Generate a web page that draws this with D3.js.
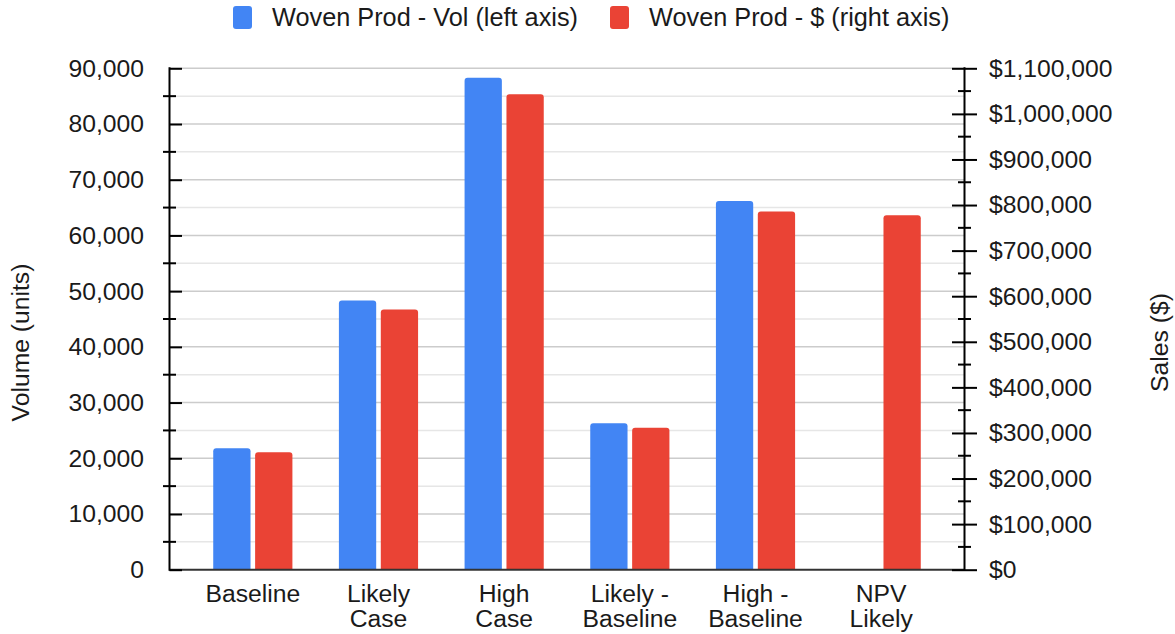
<!DOCTYPE html>
<html>
<head>
<meta charset="utf-8">
<script src="https://cdn.jsdelivr.net/npm/d3@7"></script>
<style>
  html, body { margin: 0; padding: 0; background: #fff; }
  svg { display: block; font-family: "Liberation Sans", Arial, Helvetica, sans-serif; }
</style>
</head>
<body>
<svg id="chart" width="1175" height="634"></svg>
<script>
// Scenario categories (multi-line labels split on "\n")
const categories = ["Baseline", "Likely\nCase", "High\nCase", "Likely -\nBaseline", "High -\nBaseline", "NPV\nLikely"];
// Woven product volume in units (left axis); null = no value
const volumeUnits = [21800, 48300, 88300, 26300, 66200, null];
// Woven product sales in dollars (right axis)
const salesDollars = [257500, 571000, 1043000, 311500, 786000, 777500];
const seriesNames = ["Woven Prod - Vol (left axis)", "Woven Prod - $ (right axis)"];
const seriesColors = ["#4285F4", "#EA4335"];
const leftMajorTicks = [0, 10000, 20000, 30000, 40000, 50000, 60000, 70000, 80000, 90000];
const rightMajorTicks = [0, 100000, 200000, 300000, 400000, 500000, 600000, 700000, 800000, 900000, 1000000, 1100000];

const svg = d3.select("#chart");
const plot = { left: 169.5, right: 964.5, top: 68.3, bottom: 569.7 };
const fontSize = 24.7;
const legendFontSize = 25.3;
const textColor = "#1a1a1a";

const x = d3.scaleBand().domain(categories).range([plot.left, plot.right])
  .paddingInner(0.37).paddingOuter(0.348);
const xSub = d3.scaleBand().domain([0, 1]).range([0, x.bandwidth()]).paddingInner(0.11);
const yLeft = d3.scaleLinear().domain([0, 90000]).range([plot.bottom, plot.top]);
const yRight = d3.scaleLinear().domain([0, 1100000]).range([plot.bottom, plot.top]);

const leftMinor = d3.range(5000, 90000, 10000);
const rightMinor = d3.range(50000, 1100000, 100000);

// Gridlines (left axis scale)
const grid = svg.append("g");
grid.selectAll("line.minor").data(leftMinor).join("line")
  .attr("x1", plot.left).attr("x2", plot.right)
  .attr("y1", d => yLeft(d)).attr("y2", d => yLeft(d))
  .attr("stroke", "#e6e6e6").attr("stroke-width", 1.5);
grid.selectAll("line.major").data(leftMajorTicks.filter(d => d > 0)).join("line")
  .attr("x1", plot.left).attr("x2", plot.right)
  .attr("y1", d => yLeft(d)).attr("y2", d => yLeft(d))
  .attr("stroke", "#cccccc").attr("stroke-width", 1.5);

// Bars with rounded top corners
function barPath(x0, w, yTop, yBot, r) {
  r = Math.min(r, w / 2, yBot - yTop);
  return `M${x0},${yBot}V${yTop + r}Q${x0},${yTop} ${x0 + r},${yTop}H${x0 + w - r}Q${x0 + w},${yTop} ${x0 + w},${yTop + r}V${yBot}Z`;
}
const barData = [];
categories.forEach((c, i) => {
  if (volumeUnits[i] != null) barData.push({ c, s: 0, y: yLeft(volumeUnits[i]) });
  if (salesDollars[i] != null) barData.push({ c, s: 1, y: yRight(salesDollars[i]) });
});
svg.append("g").selectAll("path").data(barData).join("path")
  .attr("d", d => barPath(x(d.c) + xSub(d.s), xSub.bandwidth(), d.y, plot.bottom, 3))
  .attr("fill", d => seriesColors[d.s]);

// Baseline
svg.append("line")
  .attr("x1", plot.left).attr("x2", plot.right)
  .attr("y1", plot.bottom).attr("y2", plot.bottom)
  .attr("stroke", "#333").attr("stroke-width", 2);

// Left axis
const fmt = d3.format(",");
const leftAxis = svg.append("g").attr("transform", `translate(${plot.left},0)`)
  .call(d3.axisLeft(yLeft).tickValues(leftMajorTicks).tickFormat(fmt).tickSize(12.5).tickPadding(13));
leftAxis.select(".domain").remove();
leftAxis.selectAll(".tick line").attr("x2", 12.5).attr("stroke", "#000").attr("stroke-width", 2);
leftAxis.selectAll(".tick text").attr("font-size", fontSize).attr("fill", textColor)
  .attr("font-family", "Liberation Sans, Arial, sans-serif");
leftAxis.append("g").selectAll("line").data(leftMinor).join("line")
  .attr("x1", -6.5).attr("x2", 6.5).attr("y1", d => yLeft(d)).attr("y2", d => yLeft(d))
  .attr("stroke", "#000").attr("stroke-width", 2);
leftAxis.append("line").attr("x1", 0).attr("x2", 0).attr("y1", plot.top - 1).attr("y2", plot.bottom + 1)
  .attr("stroke", "#000").attr("stroke-width", 2);

// Right axis
const rightAxis = svg.append("g").attr("transform", `translate(${plot.right},0)`)
  .call(d3.axisRight(yRight).tickValues(rightMajorTicks).tickFormat(d => "$" + fmt(d)).tickSize(12.5).tickPadding(12));
rightAxis.select(".domain").remove();
rightAxis.selectAll(".tick line").attr("x1", -12.5).attr("stroke", "#000").attr("stroke-width", 2);
rightAxis.selectAll(".tick text").attr("font-size", fontSize).attr("fill", textColor)
  .attr("font-family", "Liberation Sans, Arial, sans-serif");
rightAxis.append("g").selectAll("line").data(rightMinor).join("line")
  .attr("x1", -6.5).attr("x2", 6.5).attr("y1", d => yRight(d)).attr("y2", d => yRight(d))
  .attr("stroke", "#000").attr("stroke-width", 2);
rightAxis.append("line").attr("x1", 0).attr("x2", 0).attr("y1", plot.top - 1).attr("y2", plot.bottom + 1)
  .attr("stroke", "#000").attr("stroke-width", 2);

// Category labels
const xLabels = svg.append("g").selectAll("text").data(categories).join("text")
  .attr("x", d => x(d) + x.bandwidth() / 2)
  .attr("y", 601.5)
  .attr("text-anchor", "middle")
  .attr("font-size", fontSize).attr("fill", textColor);
xLabels.each(function (d) {
  const lines = d.split("\n");
  d3.select(this).selectAll("tspan").data(lines).join("tspan")
    .attr("x", x(d) + x.bandwidth() / 2)
    .attr("dy", (l, i) => i === 0 ? 0 : 25)
    .text(l => l);
});

// Axis titles
svg.append("text")
  .attr("transform", `translate(29,342.5) rotate(-90)`)
  .attr("text-anchor", "middle").attr("font-size", fontSize).attr("fill", textColor)
  .text("Volume (units)");
svg.append("text")
  .attr("transform", `translate(1168,342.5) rotate(-90)`)
  .attr("text-anchor", "middle").attr("font-size", fontSize).attr("fill", textColor)
  .text("Sales ($)");

// Legend
const legendItems = [
  { name: seriesNames[0], color: seriesColors[0], x: 233 },
  { name: seriesNames[1], color: seriesColors[1], x: 610 }
];
const legend = svg.append("g").selectAll("g").data(legendItems).join("g")
  .attr("transform", d => `translate(${d.x},0)`);
legend.append("rect").attr("x", 0).attr("y", 6).attr("width", 19).attr("height", 23)
  .attr("rx", 3).attr("fill", d => d.color);
legend.append("text").attr("x", 39).attr("y", 26)
  .attr("font-size", legendFontSize).attr("fill", textColor).text(d => d.name);
</script>
</body>
</html>
